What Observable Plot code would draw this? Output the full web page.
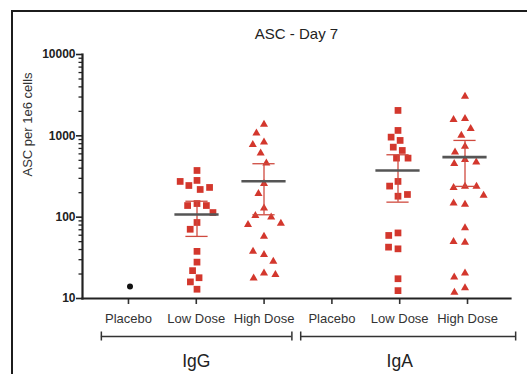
<!DOCTYPE html>
<html><head><meta charset="utf-8">
<script src="https://cdn.jsdelivr.net/npm/d3@7"></script>
<script src="https://cdn.jsdelivr.net/npm/@observablehq/plot@0.6"></script>
<style>
html,body{margin:0;padding:0;background:#fff;}
#chart{position:relative;width:527px;height:374px;overflow:hidden;font-family:"Liberation Sans",Arial,sans-serif;}
#chart svg{position:absolute;left:0;top:0;}
#box{position:absolute;left:11px;top:10px;width:540px;height:400px;border-top:2px solid #1c1c1c;border-left:2px solid #1c1c1c;pointer-events:none;z-index:5;}
</style></head><body>
<div id="chart"><div id="box"></div></div>
<script>
// ---- data ----
const title = "ASC - Day 7";
const yLabel = "ASC per 1e6 cells";
const groups = ["IgG", "IgA"];
const doses = ["Placebo", "Low Dose", "High Dose"];
const bracketStart = [-0.4, 2.54];   // in category units
const bracketEnd = [2.41, 5.71];
const yMajorTicks = [10, 100, 1000, 10000];
const yMinorTicks = [20,30,40,50,60,70,80,90,200,300,400,500,600,700,800,900,2000,3000,4000,5000,6000,7000,8000,9000];

const igGPlacebo = [14];
const igGLow = [375,283,245,219,232,275,147,139,139,114,86,71,38,28,22,18,16,13];
const igGHigh = [1380,1080,837,778,613,462,258,194,129,104,100,84,81,58,34.5,38,28.5,20.5,17.8,19.7];
const igAPlacebo = [];
const igALow = [2053,1165,964,878,726,661,532,532,275,241,181,190,64,59.6,40.8,42.8,17.5,12.5];
const igAHigh = [3053,1623,1578,1223,1012,741,630,508,454,475,239,230,239,185,143,149,74,49,50,20.5,18.3,13.5,11.9];

// mean and error bar ends, per category (IgG: Placebo, Low, High; IgA: Placebo, Low, High)
const meanValues = [null, 108, 277, null, 375, 547];
const errLow = [null, 58, 107, null, 153, 239];
const errHigh = [null, 157, 454, null, 585, 878];

// ---- build tables ----
const series = [igGPlacebo, igGLow, igGHigh, igAPlacebo, igALow, igAHigh];
const cats = groups.flatMap(g => doses.map(d => ({group: g, dose: d, key: g + " " + d})));
const keys = cats.map(c => c.key);
const points = series.flatMap((vals, i) => vals.map(v => ({key: keys[i], dose: cats[i].dose, value: v})));
const summary = cats.map((c, i) => ({key: c.key, mean: meanValues[i], lo: errLow[i], hi: errHigh[i]})).filter(d => d.mean != null);

const red = "#d3372d";
const errColor = "#cf4a3f";
const font = "'Liberation Sans', Arial, sans-serif";
const W = 527, H = 374;

const plotA = Plot.plot({
  width: W, height: H, marginLeft: 82, marginRight: 17, marginTop: 54, marginBottom: 76,
  style: {fontFamily: font, background: "transparent", color: "#222", overflow: "visible"},
  x: {type: "linear", domain: [-0.678, 5.634], axis: null},
  y: {type: "log", domain: [10, 10000], axis: null},
  marks: [
    Plot.axisY({ticks: yMinorTicks, tickSize: 3.5, tickFormat: () => "", label: null, strokeWidth: 1.3}),
    Plot.axisY({ticks: yMajorTicks, tickSize: 6, tickPadding: 1, tickFormat: d3.format("d"), label: null, fontSize: 12, fontWeight: "bold", strokeWidth: 1.6}),
    Plot.axisX({ticks: d3.range(keys.length), tickFormat: i => cats[i].dose, tickSize: 6, tickPadding: 9, fontSize: 13, label: null, strokeWidth: 1.6, color: "#333"}),
    Plot.frame({anchor: "left", strokeWidth: 2.2}),
    Plot.frame({anchor: "bottom", strokeWidth: 2.2}),
    Plot.text([yLabel], {frameAnchor: "left", rotate: -90, dx: -55, fontSize: 13, fill: "#333"}),
    Plot.text([title], {frameAnchor: "top", dy: -26, fontSize: 15, fill: "#222"}),
    Plot.ruleY(groups, {x1: (d, i) => bracketStart[i], x2: (d, i) => bracketEnd[i], y: () => yMajorTicks[0], dy: 38, stroke: "#333", strokeWidth: 1.5}),
    Plot.ruleX(groups.flatMap((g, i) => [bracketStart[i], bracketEnd[i]]), {x: d => d, y1: () => yMajorTicks[0], y2: () => yMajorTicks[0], dy: 38, insetTop: -4.5, insetBottom: -4.5, stroke: "#333", strokeWidth: 1.5}),
    Plot.text(groups, {x: (d, i) => i * doses.length + Math.floor(doses.length / 2), y: () => yMajorTicks[0], dy: 63, fontSize: 17.5, fill: "#222"})
  ]
});

const plotB = Plot.plot({
  width: W, height: H, marginLeft: 94.1, marginRight: 26.1, marginTop: 54, marginBottom: 76,
  style: {background: "transparent", overflow: "visible"},
  fx: {domain: keys, padding: 0, axis: null},
  y: {type: "log", domain: [10, 10000], axis: null},
  marks: [
    Plot.dot(points.filter(d => d.dose === "Placebo"), Plot.dodgeX({anchor: "middle", padding: 1.5}, {fx: "key", y: "value", r: 3, symbol: "circle", fill: "#111"})),
    Plot.dot(points.filter(d => d.dose === "Low Dose"), Plot.dodgeX({anchor: "middle", padding: 2}, {fx: "key", y: "value", r: 3.8, symbol: "square", fill: red})),
    Plot.dot(points.filter(d => d.dose === "High Dose"), Plot.dodgeX({anchor: "middle", padding: 5.5}, {fx: "key", y: "value", r: 3, symbol: "triangle", fill: red})),
    Plot.ruleX(summary, {fx: "key", x: null, y1: "lo", y2: "hi", stroke: errColor, strokeWidth: 1.3}),
    Plot.tickY(summary, {fx: "key", y: "hi", stroke: errColor, strokeWidth: 1.3, insetLeft: 22.4, insetRight: 22.4}),
    Plot.tickY(summary, {fx: "key", y: "lo", stroke: errColor, strokeWidth: 1.3, insetLeft: 22.4, insetRight: 22.4}),
    Plot.tickY(summary, {fx: "key", y: "mean", stroke: "#555", strokeWidth: 2.6, insetLeft: 11.4, insetRight: 11.4})
  ]
});

const chart = document.getElementById("chart");
chart.insertBefore(plotA, chart.firstChild);
chart.insertBefore(plotB, document.getElementById("box"));
</script>
</body></html>
